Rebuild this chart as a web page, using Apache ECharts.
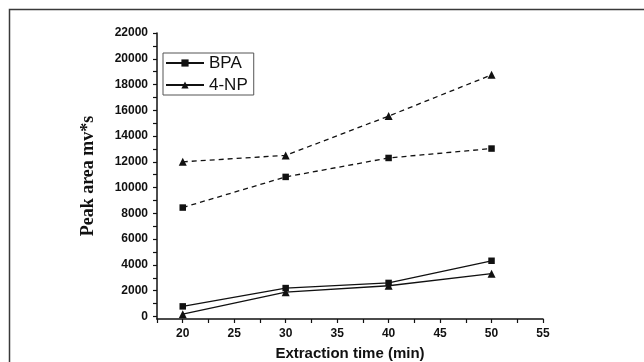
<!DOCTYPE html>
<html>
<head>
<meta charset="utf-8">
<style>
  html, body { margin: 0; padding: 0; background: #fff; }
  #chart { width: 644px; height: 362px; }
</style>
<script src="https://cdn.jsdelivr.net/npm/echarts@6/dist/echarts.min.js"></script>
</head>
<body>
<div id="chart"></div>
<script>
// extraction time (min)
const times = [20, 30, 40, 50]
// peak area mv*s, lower (solid) and upper (dashed) pairs
const bpaSolid = [780, 2200, 2600, 4320]
const npSolid = [170, 1880, 2380, 3320]
const bpaDashed = [8450, 10830, 12300, 13030]
const npDashed = [12000, 12500, 15550, 18750]

const xLabels = [20, 25, 30, 35, 40, 45, 50, 55]
const xTicks = [17.5, 20, 22.5, 25, 27.5, 30, 32.5, 35, 37.5, 40, 42.5, 45, 47.5, 50, 52.5, 55]
const yLabels = [0, 2000, 4000, 6000, 8000, 10000, 12000, 14000, 16000, 18000, 20000, 22000]
const yTicks = []
for (let v = 0; v <= 22000; v += 1000) yTicks.push(v)

const pairs = (ys) => times.map((t, i) => [t, ys[i]])

const chart = echarts.init(document.getElementById('chart'), null, { renderer: 'canvas' })

const mkSeries = (name, data, symbol, size, dashed) => ({
  name,
  type: 'line',
  data: pairs(data),
  symbol,
  symbolSize: size,
  color: '#111',
  itemStyle: { color: '#111' },
  lineStyle: { color: '#111', width: 1.3, type: dashed ? [5, 4] : 'solid' },
  emphasis: { disabled: true },
  z: 3,
})

chart.setOption({
  animation: false,
  backgroundColor: '#fff',
  grid: { left: 157, right: 101, top: 33, bottom: 43, outerBoundsMode: 'none' },
  graphic: [{
    type: 'rect',
    shape: { x: 9.5, y: 9.5, width: 700, height: 420 },
    style: { fill: 'none', stroke: '#3a3a3a', lineWidth: 1.5 },
    silent: true,
  }],
  legend: {
    data: ['BPA', '4-NP'],
    orient: 'vertical',
    left: 163,
    top: 53,
    itemWidth: 38,
    itemHeight: 9,
    itemGap: 4,
    padding: [1, 6, 1, 2],
    borderColor: '#555',
    borderWidth: 1,
    textStyle: { fontFamily: 'Liberation Sans', fontSize: 17, color: '#111', lineHeight: 18 },
  },
  xAxis: {
    type: 'value',
    min: 17.5,
    max: 55,
    name: 'Extraction time (min)',
    nameLocation: 'middle',
    nameGap: 27,
    nameMoveOverlap: false,
    nameTextStyle: { fontFamily: 'Liberation Sans', fontWeight: 'bold', fontSize: 15, color: '#111' },
    axisLine: { onZero: false, lineStyle: { color: '#111', width: 1.5 } },
    axisTick: { customValues: xTicks, length: 4, lineStyle: { color: '#111', width: 1.2 } },
    axisLabel: { customValues: xLabels, margin: 9, formatter: (v) => String(v), fontFamily: 'Liberation Sans', fontWeight: 'bold', fontSize: 12, color: '#111' },
    splitLine: { show: false },
  },
  yAxis: {
    type: 'value',
    min: -200,
    max: 22000,
    name: 'Peak area mv*s',
    nameLocation: 'middle',
    nameGap: 60,
    nameMoveOverlap: false,
    nameTextStyle: { fontFamily: 'Liberation Serif', fontWeight: 'bold', fontSize: 18, color: '#111' },
    axisLine: { show: true, lineStyle: { color: '#111', width: 1.5 } },
    axisTick: { customValues: yTicks, length: 4, lineStyle: { color: '#111', width: 1.2 } },
    axisLabel: { customValues: yLabels, margin: 9, formatter: (v) => String(v), fontFamily: 'Liberation Sans', fontWeight: 'bold', fontSize: 12, color: '#111' },
    splitLine: { show: false },
  },
  series: [
    mkSeries('BPA', bpaSolid, 'rect', 6.5, false),
    mkSeries('4-NP', npSolid, 'triangle', 8, false),
    mkSeries('BPA', bpaDashed, 'rect', 6.5, true),
    mkSeries('4-NP', npDashed, 'triangle', 8, true),
  ],
})
</script>
</body>
</html>
